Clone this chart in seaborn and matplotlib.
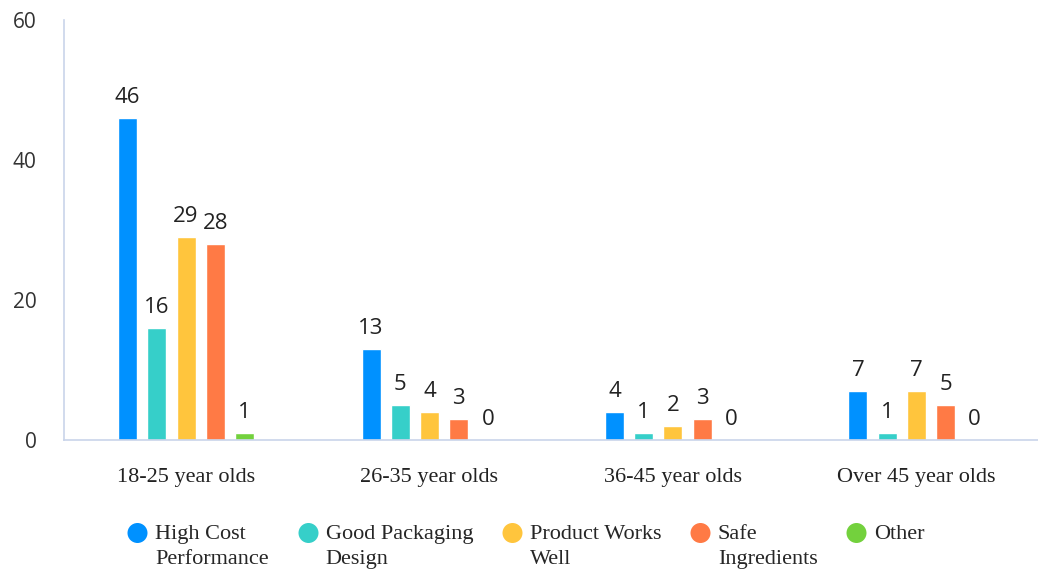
import numpy as np
import pandas as pd
import matplotlib
matplotlib.use("Agg")
import matplotlib.pyplot as plt
from matplotlib.lines import Line2D
from matplotlib.markers import MarkerStyle
from matplotlib.path import Path
import seaborn as sns

# ---- data ----
categories = ["18-25 year olds", "26-35 year olds", "36-45 year olds", "Over 45 year olds"]
series = ["High Cost Performance", "Good Packaging Design", "Product Works Well",
          "Safe Ingredients", "Other"]
legend_labels = ["High Cost\nPerformance", "Good Packaging\nDesign", "Product Works\nWell",
                 "Safe\nIngredients", "Other\n "]
high_cost = [46, 13, 4, 7]
good_packaging = [16, 5, 1, 1]
works_well = [29, 4, 2, 7]
safe_ingredients = [28, 3, 3, 5]
other = [1, 0, 0, 0]
y_ticks = [0, 20, 40, 60]

colors = ["#0091FF", "#36CFC9", "#FFC53D", "#FF7A45", "#73D13D"]

values = [high_cost, good_packaging, works_well, safe_ingredients, other]
df = pd.DataFrame(
    [(c, s, v) for s, vals in zip(series, values) for c, v in zip(categories, vals)],
    columns=["group", "reason", "count"],
)

sns.set_theme(style="white")
plt.rcParams["font.family"] = ["Open Sans", "DejaVu Sans"]

fig = plt.figure(figsize=(10.38, 5.74), dpi=100)
ax = fig.add_axes([0.062, 0.2334, 0.938, 0.7318])

sns.barplot(data=df, x="group", y="count", hue="reason", order=categories,
            hue_order=series, palette=colors, width=0.6, gap=0.35,
            saturation=1, legend=False, ax=ax, errorbar=None)

for cont in ax.containers:
    ax.bar_label(cont, fmt="%d", padding=7, fontsize=16, color="#222222",
                 family=["Open Sans", "DejaVu Sans"])

ax.set_ylim(0, 60)
ax.set_xlim(-0.5, 3.5)
ax.set_yticks(y_ticks)
ax.set_xlabel("")
ax.set_ylabel("")

axis_color = "#C9D4EA"
for side in ["top", "right"]:
    ax.spines[side].set_visible(False)
for side in ["left", "bottom"]:
    ax.spines[side].set_color(axis_color)
    ax.spines[side].set_linewidth(1.2)

ax.tick_params(axis="y", length=0, pad=20, labelsize=15, labelcolor="#333333")
ax.tick_params(axis="x", length=0, pad=20, labelsize=16, labelcolor="#222222")
for lab in ax.get_xticklabels():
    lab.set_family(["Liberation Serif", "DejaVu Serif"])

# legend: round swatches aligned with the first line of each label
dy = 1.35
circ = Path.circle(center=(0, dy), radius=1.0)
msize = 7.2 * (dy + 1.0) / 0.5
handles = [Line2D([], [], marker=MarkerStyle(circ), linestyle="none",
                  markersize=msize, color=c, markeredgewidth=0) for c in colors]
leg = fig.legend(handles, legend_labels, loc="upper left", bbox_to_anchor=(0.111, 0.105),
                 ncol=5, frameon=False, borderpad=0, handlelength=1.0, handletextpad=0.3,
                 columnspacing=1.25, labelspacing=0.2,
                 prop={"family": ["Liberation Serif", "DejaVu Serif"], "size": 16})
for t in leg.get_texts():
    t.set_linespacing(1.45)

fig.savefig("out.png", dpi=100)
